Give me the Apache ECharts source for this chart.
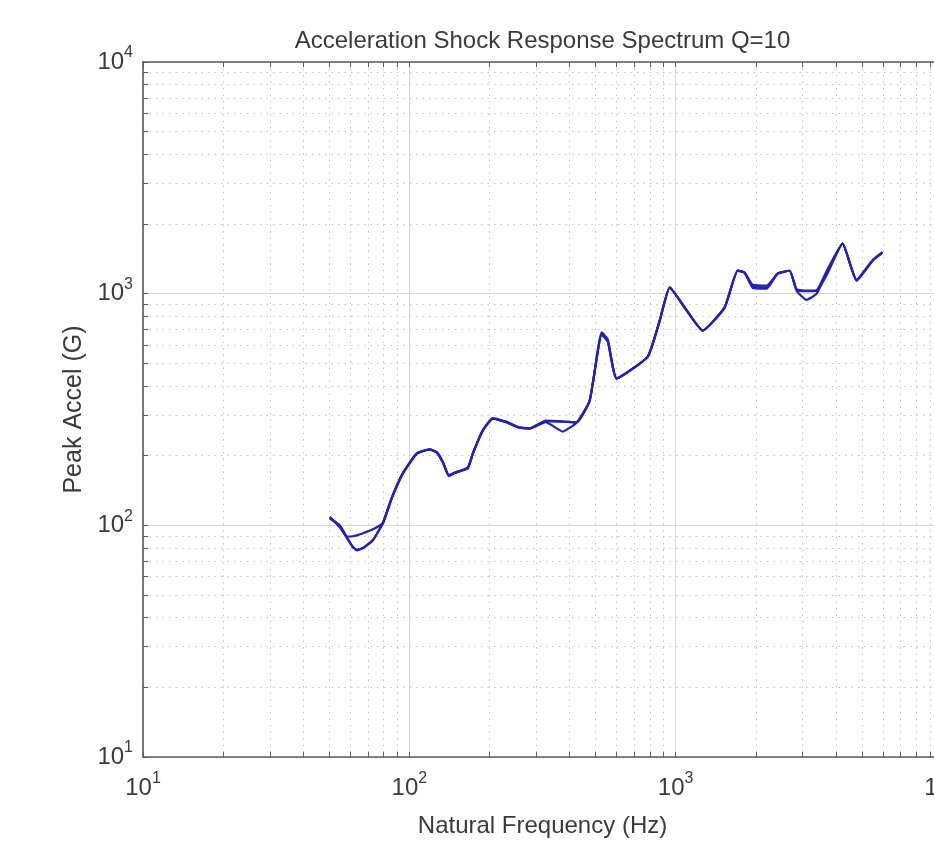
<!DOCTYPE html>
<html>
<head>
<meta charset="utf-8">
<script src="https://cdn.jsdelivr.net/npm/echarts@6/dist/echarts.min.js"></script>
<style>html,body{margin:0;padding:0;background:#fff;}#c{width:934px;height:848px;}</style>
</head>
<body>
<div id="c"></div>
<script>
// Natural frequency (Hz)
const freq = [50.3,54.8,58.3,61.4,63.5,66.9,73.0,79.6,86.0,94.5,106.7,119.4,126.9,133.6,140.7,148.2,165.8,173.1,188.7,205.8,232.2,255.4,283.4,325,376.7,425,475.6,527.8,555.9,600.6,785.3,871,950,1100,1263,1527,1709,1815,1945,2195,2414,2678,2844,3101,3382,3686,4233,4778,5486,5980];
// Peak acceleration (G), three overlaid responses
const accA = [107,100,88.8,80.4,78.0,79.6,86.2,103,132,167.5,204,213,206,187,163,169,176,204,257,289,278,265,262,279,254,278,346,672,627,430,535,765,1061,845,693,870,1256,1231,1061,1051,1220,1256,1030,940,1000,1220,1643,1138,1388,1502];
const accB = [109,98,89.5,89.7,90.5,92.4,96.1,102.5,131,167,204,212,207,188,165,168,178,204,256,290,280,266,262,283,281,278,346,680,635,432,535,765,1065,850,693,875,1260,1235,1093,1083,1220,1256,1045,1030,1035,1250,1643,1150,1395,1510];
const accC = [108,99.5,88,80.8,78.5,79.8,86.5,102,132,168,205,213,206,187,164,169,177,204,257,289,279,265,262,282,280,278,346,665,620,430,535,765,1061,845,693,870,1256,1231,1075,1065,1220,1256,1040,1025,1030,1200,1643,1140,1388,1502];
// Axis ticks
const majorTicks = [10,100,1000,10000];
const minorTicks = [20,30,40,50,60,70,80,90,200,300,400,500,600,700,800,900,2000,3000,4000,5000,6000,7000,8000,9000];
const allTicks = majorTicks.concat(minorTicks).sort((a,b)=>a-b);

const FONT = 'Liberation Sans';
const TXT = '#3a3a3a';
const AX = '#5c5c5c';
const rich = {
  b: {fontSize: 24, fontFamily: FONT, color: TXT},
  s: {fontSize: 16, fontFamily: FONT, color: TXT, padding: [0,0,18,0]}
};
const fmt = v => '{b|10}{s|' + Math.round(Math.log10(v)) + '}';

function mainAxis(pos, extra) {
  return Object.assign({
    type: 'log', logBase: 10, min: 10, max: 10000, position: pos,
    axisLine: {show: true, onZero: false, lineStyle: {color: AX, width: 1.6}},
    axisTick: {show: true, inside: true, length: 5, customValues: allTicks, lineStyle: {color: AX, width: 1}},
    axisLabel: {show: false},
    splitLine: {show: false}
  }, extra);
}
function gridAxis(pos, values, style) {
  return {
    type: 'log', logBase: 10, min: 10, max: 10000, position: pos,
    axisLine: {show: false},
    axisTick: {show: false, customValues: values},
    axisLabel: {show: false},
    splitLine: {show: true, lineStyle: style}
  };
}
const majorStyle = {color: '#d6d6d6', width: 1, type: 'solid'};
const minorStyle = {color: '#c4c4c4', width: 1, type: [1.5, 5]};

const chart = echarts.init(document.getElementById('c'));
const mk = (arr) => freq.map((f, i) => [f, arr[i]]);
const lineSeries = (arr) => ({
  type: 'line', xAxisIndex: 0, yAxisIndex: 0, data: mk(arr),
  showSymbol: false, smooth: 0.15, animation: false,
  lineStyle: {color: '#2222b4', width: 2.2}, z: 10
});
chart.setOption({
  animation: false,
  backgroundColor: '#fff',
  grid: {left: 143, top: 62, width: 799, height: 695, containLabel: false, outerBoundsMode: 'none'},
  xAxis: [
    mainAxis('bottom', {
      axisLabel: {show: true, customValues: majorTicks, formatter: fmt, rich: rich, margin: 14},
      name: 'Natural Frequency (Hz)', nameLocation: 'middle', nameGap: 57,
      nameTextStyle: {fontFamily: FONT, fontSize: 24, color: TXT}
    }),
    mainAxis('top', {
      name: 'Acceleration Shock Response Spectrum Q=10', nameLocation: 'middle', nameGap: 9,
      nameTextStyle: {fontFamily: FONT, fontSize: 24, color: TXT}
    }),
    gridAxis('bottom', majorTicks, majorStyle),
    gridAxis('bottom', minorTicks, minorStyle)
  ],
  yAxis: [
    mainAxis('left', {
      axisLabel: {show: true, customValues: majorTicks, formatter: fmt, rich: rich, margin: 10},
      name: 'Peak Accel (G)', nameLocation: 'middle', nameGap: 54,
      nameTextStyle: {fontFamily: FONT, fontSize: 25, color: TXT}
    }),
    gridAxis('left', majorTicks, majorStyle),
    gridAxis('left', minorTicks, minorStyle)
  ],
  series: [lineSeries(accA), lineSeries(accB), lineSeries(accC)]
});
</script>
</body>
</html>
